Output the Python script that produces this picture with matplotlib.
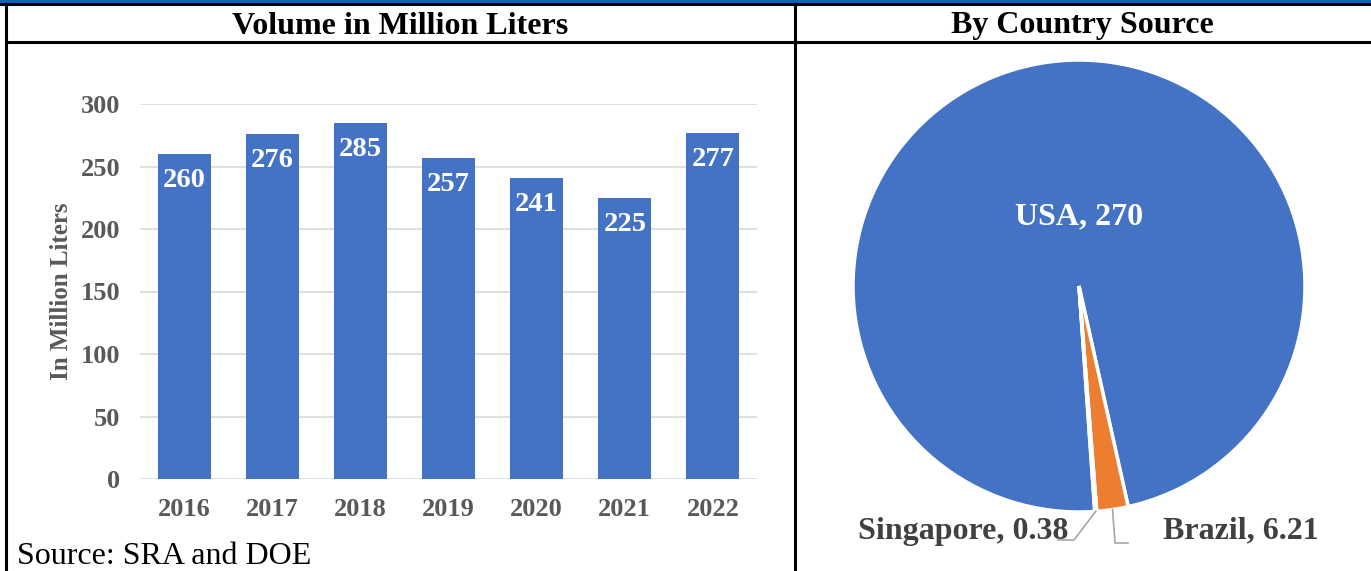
import matplotlib.pyplot as plt
from matplotlib.lines import Line2D
from matplotlib.patches import Rectangle
import numpy as np

# data
years = ['2016', '2017', '2018', '2019', '2020', '2021', '2022']
volume = [260, 276, 285, 257, 241, 225, 277]
countries = ['USA', 'Brazil', 'Singapore']
country_vol = [270, 6.21, 0.38]
country_colors = ['#4472C4', '#ED7D31', '#A5A5A5']

W, H = 1371, 571
plt.rcParams['font.family'] = ['Liberation Serif', 'DejaVu Serif']
fig = plt.figure(figsize=(W / 100, H / 100), dpi=100)


def fx(px):
    return px / W


def fy(py):
    # py measured from top
    return 1 - py / H


# table frame
fig.patches.append(Rectangle((0, fy(3)), 1, 3 / H, transform=fig.transFigure,
                             color='#0A62C0', zorder=0))
for (x0, y0, x1, y1) in [(0, 4, W, 4), (6, 42, W, 42), (6, 4, 6, H), (795, 4, 795, H)]:
    fig.add_artist(Line2D([fx(x0), fx(x1)], [fy(y0), fy(y1)], color='black', lw=2.2,
                          transform=fig.transFigure))

fig.text(fx(400), fy(26), 'Volume in Million Liters', ha='center', va='center',
         fontsize=23, fontweight='bold')
fig.text(fx(1082), fy(26), 'By Country Source', ha='center', va='center',
         fontsize=23, fontweight='bold')
fig.text(fx(17), fy(556), 'Source: SRA and DOE', ha='left', va='center', fontsize=23)

# bar chart
ax = fig.add_axes([fx(140), fy(479), fx(757 - 140), (479 - 104) / H])
x = np.arange(len(years))
bars = ax.bar(x, volume, width=0.6, color='#4472C4', zorder=2)
ax.set_ylim(0, 300)
ax.set_xlim(-0.5, len(years) - 0.5)
ax.set_yticks(range(0, 301, 50))
ax.set_xticks(x)
ax.set_xticklabels(years)
ax.yaxis.grid(True, color='#D9D9D9', lw=1.2, zorder=0)
for s in ax.spines.values():
    s.set_visible(False)
ax.tick_params(length=0, labelsize=19, labelcolor='#595959', pad=14)
ax.tick_params(axis='x', pad=14)
for lab in ax.get_xticklabels() + ax.get_yticklabels():
    lab.set_fontweight('bold')
ax.set_ylabel('In Million Liters', fontsize=18, fontweight='bold', color='#595959', labelpad=6)
for b, v in zip(bars, volume):
    ax.annotate(str(v), (b.get_x() + b.get_width() / 2, v), xytext=(0, -19),
                textcoords='offset points', ha='center', va='center', color='white',
                fontsize=20.5, fontweight='bold')

# pie chart
cx, cy, r = 1079, 286, 226
pax = fig.add_axes([fx(cx - r), fy(cy + r), 2 * r / W, 2 * r / H])
wedges, _ = pax.pie(country_vol, colors=country_colors, startangle=-86, counterclock=False,
                    wedgeprops=dict(edgecolor='white', linewidth=2.5))
pax.set_xlim(-1, 1)
pax.set_ylim(-1, 1)
pax.set_aspect('auto')
pax.axis('off')

fig.text(fx(1079), fy(217), f'{countries[0]}, {country_vol[0]:g}', ha='center', va='center',
         color='white', fontsize=23, fontweight='bold')


def edge_pt(w):
    a = np.deg2rad((w.theta1 + w.theta2) / 2)
    return np.cos(a), np.sin(a)


def to_data(px, py):
    return (px - cx) / r, (cy - py) / r


# Singapore leader
ex, ey = edge_pt(wedges[2])
p1 = to_data(1074, 540)
p2 = to_data(1058, 540)
pax.plot([ex, p1[0], p2[0]], [ey, p1[1], p2[1]], color='#A6A6A6', lw=1.2, clip_on=False)
fig.text(fx(1068), fy(531), f'{countries[2]}, {country_vol[2]:g}', ha='right', va='center',
         color='#404040', fontsize=23, fontweight='bold')

# Brazil leader
ex, ey = edge_pt(wedges[1])
p1 = to_data(1115, 543)
p2 = to_data(1128, 543)
pax.plot([ex, p1[0], p2[0]], [ey, p1[1], p2[1]], color='#A6A6A6', lw=1.2, clip_on=False)
fig.text(fx(1163), fy(531), f'{countries[1]}, {country_vol[1]:g}', ha='left', va='center',
         color='#404040', fontsize=23, fontweight='bold')

fig.savefig('out.png', dpi=100)
